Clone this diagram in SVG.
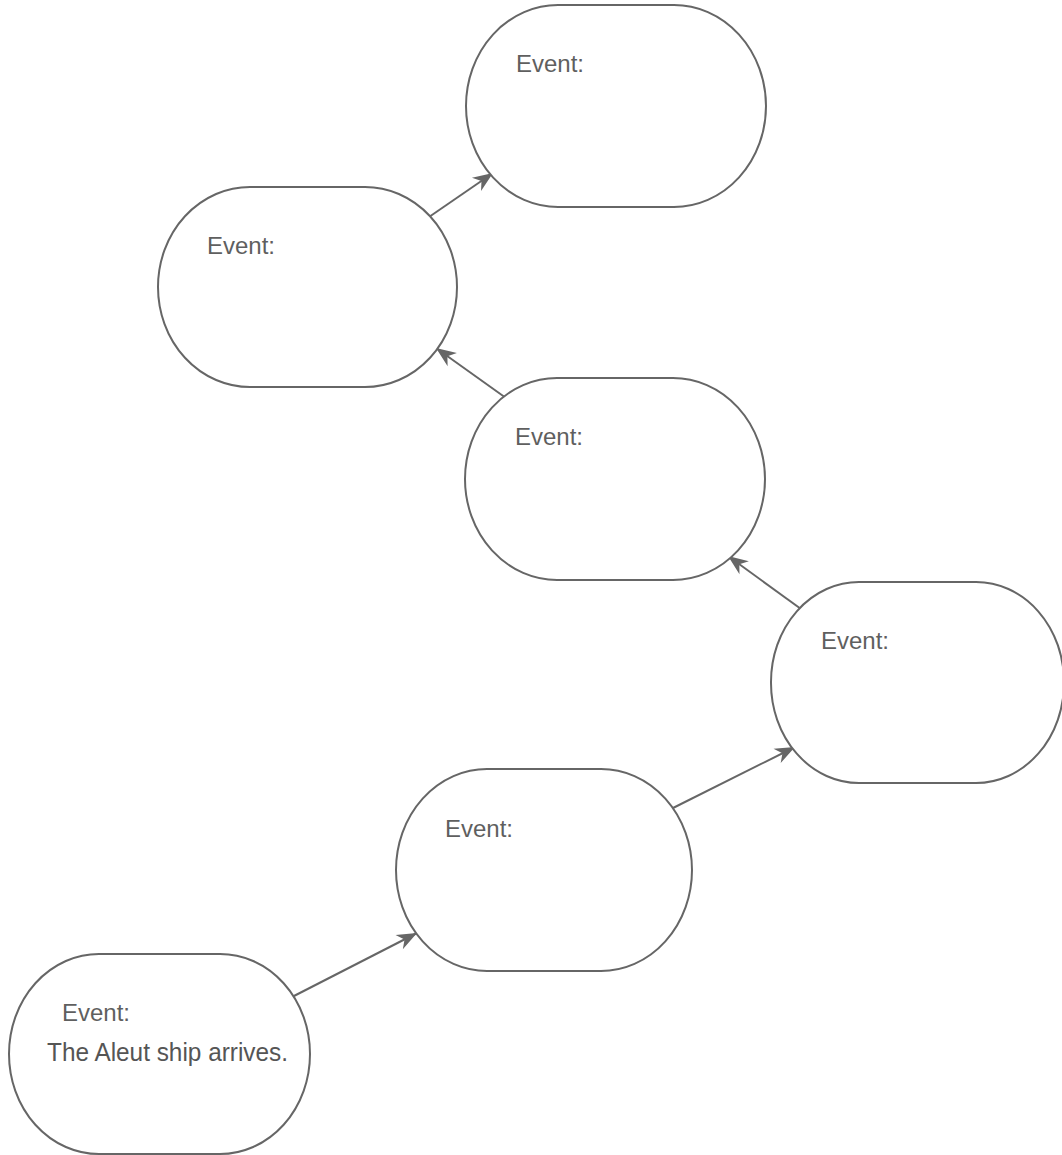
<svg xmlns="http://www.w3.org/2000/svg" width="1062" height="1155" viewBox="0 0 1062 1155">
<style>
.node{fill:#fff;stroke:#666;stroke-width:2}
.lbl{font-family:"Liberation Sans",Arial,sans-serif;font-size:24px;fill:#5f5f5f}
.hand{font-family:"Liberation Sans",Arial,sans-serif;font-size:25px;fill:#555}
.conn{stroke:#666;stroke-width:2;fill:none;marker-end:url(#ah)}
</style>
<defs>
<marker id="ah" markerUnits="userSpaceOnUse" markerWidth="26" markerHeight="20" viewBox="-22 -10 24 20" refX="0" refY="0" orient="auto">
<path d="M0,0 L-20,-8 L-14,0 L-20,8 Z" fill="#666"/>
</marker>
</defs>
<rect width="1062" height="1155" fill="#fff"/>
<g id="connectors">
<line class="conn" x1="292" y1="997" x2="417" y2="933"/>
<line class="conn" x1="673" y1="808" x2="795" y2="747"/>
<line class="conn" x1="801" y1="609" x2="728" y2="556"/>
<line class="conn" x1="506" y1="398" x2="436" y2="348"/>
<line class="conn" x1="429" y1="217" x2="493" y2="173"/>
</g>
<g id="node1">
<rect class="node" x="466" y="5" width="300" height="202" rx="92" ry="101"/>
<text class="lbl" x="516" y="72">Event:</text>
</g>
<g id="node2">
<rect class="node" x="158" y="187" width="299" height="200" rx="92" ry="100"/>
<text class="lbl" x="207" y="254">Event:</text>
</g>
<g id="node3">
<rect class="node" x="465" y="378" width="300" height="202" rx="92" ry="101"/>
<text class="lbl" x="515" y="445">Event:</text>
</g>
<g id="node4">
<rect class="node" x="771" y="582" width="293" height="201" rx="88" ry="100"/>
<text class="lbl" x="821" y="649">Event:</text>
</g>
<g id="node5">
<rect class="node" x="396" y="769" width="296" height="202" rx="91" ry="101"/>
<text class="lbl" x="445" y="837">Event:</text>
</g>
<g id="node6">
<rect class="node" x="9" y="954" width="301" height="200" rx="90" ry="100"/>
<text class="lbl" x="62" y="1021">Event:</text>
<text class="hand" x="47" y="1061" textLength="241" lengthAdjust="spacingAndGlyphs">The Aleut ship arrives.</text>
</g>
</svg>
